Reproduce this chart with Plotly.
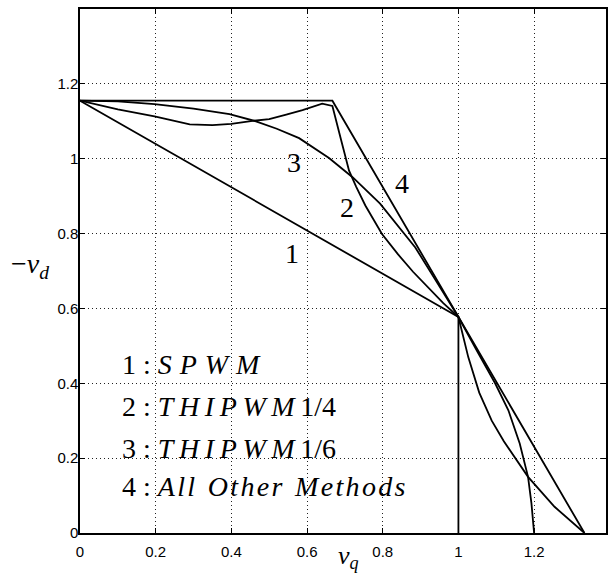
import plotly.graph_objects as go

# ---- data ----
spwm_x = [0, 1.0, 1.0]
spwm_y = [1.155, 0.577, 0.0]

other_x = [0, 0.667, 1.333]
other_y = [1.155, 1.155, 0.0]

thi4_x = [0, 0.1, 0.197, 0.29, 0.35, 0.40, 0.456, 0.50, 0.545, 0.588, 0.640, 0.667,
          0.690, 0.711, 0.730, 0.754, 0.798, 0.84, 0.88, 0.92, 0.96, 1.0,
          1.026, 1.055, 1.088, 1.12, 1.149, 1.184, 1.254, 1.333]
thi4_y = [1.155, 1.132, 1.113, 1.092, 1.090, 1.093, 1.101, 1.106, 1.118, 1.130, 1.147, 1.141,
          1.050, 0.968, 0.925, 0.875, 0.799, 0.745, 0.698, 0.655, 0.614, 0.577,
          0.470, 0.375, 0.300, 0.245, 0.2035, 0.150, 0.070, 0.0]

thi6_x = [0, 0.1, 0.197, 0.3, 0.395, 0.465, 0.52, 0.579, 0.658, 0.721, 0.793, 0.886,
          0.94, 0.982, 1.0, 1.05, 1.097, 1.132, 1.162, 1.184, 1.193, 1.2]
thi6_y = [1.155, 1.153, 1.146, 1.134, 1.119, 1.100, 1.080, 1.055, 1.002, 0.950, 0.880, 0.763,
          0.675, 0.605, 0.577, 0.485, 0.400, 0.328, 0.239, 0.150, 0.079, 0.0]

curve_labels = ["1", "2", "3", "4"]
curve_label_x = [0.56, 0.705, 0.566, 0.85]
curve_label_y = [0.748, 0.871, 0.991, 0.935]

T = "\u2009"  # thin space (math-italic letter spacing)
H = "\u200a"  # hair space


def mi(word, sep):
    return "<i>" + sep.join(word) + "</i>"


legend_lines = [
    "1 : " + mi("SPWM", T + H),
    "2 : " + mi("THIPWM", T) + T + "1/4",
    "3 : " + mi("THIPWM", T) + T + "1/6",
    "4 : " + mi("All", H) + " " + T + mi("Other", H) + " " + T + mi("Methods", H),
]
legend_x = 0.105
legend_y = [0.449, 0.337, 0.227, 0.123]

xticks = [0, 0.2, 0.4, 0.6, 0.8, 1, 1.2]
yticks = [0, 0.2, 0.4, 0.6, 0.8, 1, 1.2]

fig = go.Figure()
line_style = dict(color="black", width=1.8)
for xs, ys in [(spwm_x, spwm_y), (other_x, other_y), (thi4_x, thi4_y), (thi6_x, thi6_y)]:
    fig.add_trace(go.Scatter(x=xs, y=ys, mode="lines", line=line_style,
                             showlegend=False, hoverinfo="skip"))

serif = "Liberation Serif"
anns = []
for t, x, y in zip(curve_labels, curve_label_x, curve_label_y):
    anns.append(dict(x=x, y=y, xref="x", yref="y", text=t, showarrow=False,
                     font=dict(family=serif, size=28, color="black"),
                     xanchor="center", yanchor="middle"))
for t, y in zip(legend_lines, legend_y):
    anns.append(dict(x=legend_x, y=y, xref="x", yref="y", text=t, showarrow=False,
                     font=dict(family=serif, size=28, color="black"),
                     xanchor="left", yanchor="middle"))
anns.append(dict(x=-0.095, y=0.51, xref="paper", yref="paper",
                 text="\u2212<i>v</i><sub><i>d</i></sub>", showarrow=False,
                 font=dict(family=serif, size=28, color="black"),
                 xanchor="center", yanchor="middle"))
anns.append(dict(x=0.511, y=-0.045, xref="paper", yref="paper",
                 text="<i>v</i><sub><i>q</i></sub>", showarrow=False,
                 font=dict(family=serif, size=26, color="black"),
                 xanchor="center", yanchor="middle"))

axis_common = dict(
    showline=True, linecolor="black", linewidth=1.5, mirror="ticks",
    ticks="inside", ticklen=5, tickcolor="black", tickwidth=1.2,
    showgrid=True, gridcolor="#222222", gridwidth=1, griddash="1px,3px",
    zeroline=False,
    tickfont=dict(family="Liberation Sans", size=15, color="black"),
)

fig.update_layout(
    width=608, height=576,
    margin=dict(l=80, r=0, t=9, b=43),
    paper_bgcolor="white", plot_bgcolor="white",
    xaxis=dict(range=[0, 1.39], tickvals=xticks,
               ticktext=[("%g" % v) for v in xticks], ticklabelstandoff=4, **axis_common),
    yaxis=dict(range=[0, 1.4], tickvals=yticks,
               ticktext=[("%g" % v) for v in yticks], ticklabelstandoff=-3, **axis_common),
    annotations=anns,
    showlegend=False,
)

fig.write_html("out.html", config={"displayModeBar": False},
               post_script="document.body.style.margin='0';")
